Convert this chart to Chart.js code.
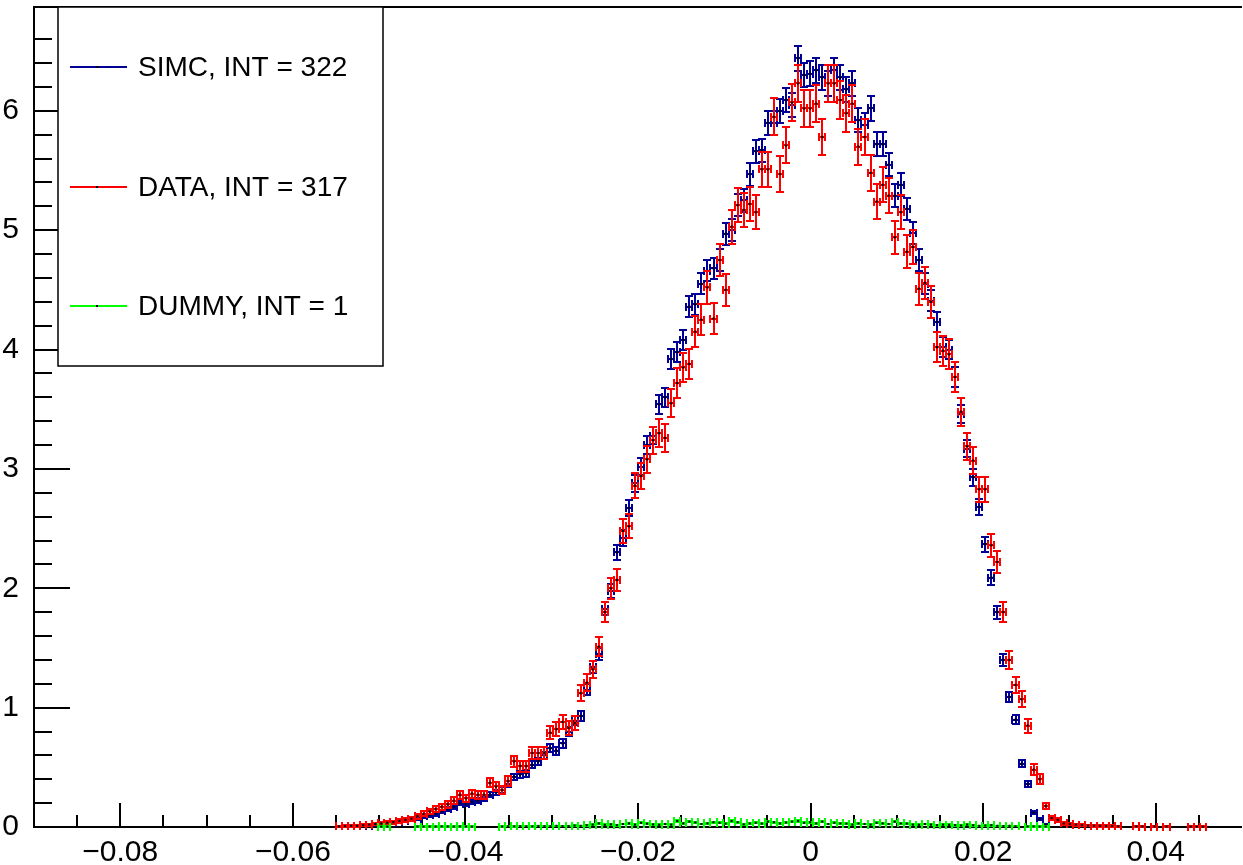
<!DOCTYPE html>
<html>
<head>
<meta charset="utf-8">
<script src="https://cdn.jsdelivr.net/npm/chart.js@4.4.1/dist/chart.umd.min.js"></script>
<style>
  html, body { margin: 0; padding: 0; background: #fff; overflow: hidden; }
  #wrap { width: 1246px; height: 865px; }
</style>
</head>
<body>
<div id="wrap"><canvas id="myChart"></canvas></div>
<script>
// histogram binning: 200 bins from -0.09 to 0.05, arrays below start at bin 50
const xMin = -0.09;
const xMax = 0.05;
const nBins = 200;
const firstBin = 50;

const seriesLabels = ['SIMC, INT = 322', 'DATA, INT = 317', 'DUMMY, INT = 1'];

// SIMC (blue)
const simc = [
  null, null, null, null, null, 0.01, 0.015, 0.02, 0.025, 0.03,
  0.04, 0.05, 0.06, 0.07, 0.09, 0.10, 0.11, 0.13, 0.15, 0.17,
  0.20, 0.19, 0.21, 0.22, 0.24, 0.27, 0.29, 0.31, 0.36, 0.42,
  0.44, 0.45, 0.52, 0.55, 0.60, 0.66, 0.64, 0.70, 0.80, 0.89,
  0.93, 1.15, 1.34, 1.45, 1.83, 1.98, 2.30, 2.42, 2.67, 2.88,
  3.02, 3.20, 3.28, 3.54, 3.60, 3.92, 3.98, 4.08, 4.36, 4.38,
  4.55, 4.66, 4.68, 4.75, 4.97, 5.00, 5.21, 5.25, 5.47, 5.66,
  5.67, 5.90, 5.90, 6.00, 6.09, 6.05, 6.44, 6.30, 6.31, 6.34,
  6.28, 6.23, 6.34, 6.28, 6.18, 6.23, 5.92, 5.88, 6.02, 5.72,
  5.72, 5.55, 5.29, 5.38, 5.18, 4.98, 4.75, 4.55, 4.41, 4.23,
  4.02, 4.00, 3.77, 3.46, 3.17, 2.93, 2.68, 2.37, 2.09, 1.80,
  1.40, 1.09, 0.90, 0.53, 0.36, 0.12, 0.065, 0.02, null, null
];

// DATA (red)
const dataVals = [
  0.005, 0.008, 0.01, 0.01, 0.015, 0.02, 0.025, 0.03, 0.035, 0.04,
  0.05, 0.06, 0.07, 0.09, 0.11, 0.13, 0.15, 0.17, 0.19, 0.22,
  0.27, 0.24, 0.28, 0.27, 0.27, 0.37, 0.34, 0.31, 0.385, 0.55,
  0.51, 0.51, 0.62, 0.62, 0.62, 0.79, 0.82, 0.88, 0.83, 0.87,
  1.12, 1.21, 1.32, 1.51, 1.80, 2.00, 2.07, 2.48, 2.52, 2.86,
  2.94, 3.08, 3.24, 3.30, 3.26, 3.55, 3.72, 3.85, 3.88, 4.15,
  4.25, 4.52, 4.26, 4.75, 4.50, 5.03, 5.21, 5.17, 5.22, 5.15,
  5.51, 5.51, 5.95, 5.47, 5.71, 6.07, 6.23, 6.02, 6.02, 6.06,
  5.78, 6.23, 6.23, 6.09, 5.98, 6.06, 5.70, 5.78, 5.48, 5.24,
  5.38, 5.29, 4.94, 5.15, 4.82, 4.86, 4.51, 4.56, 4.40, 4.02,
  3.99, 3.96, 3.77, 3.48, 3.19, 3.07, 2.83, 2.83, 2.36, 2.22,
  1.80, 1.40, 1.19, 1.07, 0.85, 0.48, 0.40, 0.175, 0.075, 0.06,
  0.03, 0.025, 0.02, 0.015, 0.012, 0.01, 0.01, 0.008, 0.008, 0.006,
  null, null, 0.005, 0.004, null, 0.004, null, 0.004, null, null,
  null, 0.003, 0.003, 0.003
];

// DUMMY (green)
const dummy = [
  null, null, null, null, null, null, null, 0.003, 0.003, null,
  null, null, null, 0.004, 0.003, 0.004, 0.003, 0.005, 0.004, 0.003,
  0.005, 0.004, 0.003, null, null, null, null, 0.004, 0.006, 0.005,
  0.008, 0.006, 0.005, 0.009, 0.007, 0.006, 0.01, 0.008, 0.007, 0.012,
  0.01, 0.015, 0.02, 0.03, 0.018, 0.022, 0.015, 0.025, 0.03, 0.02,
  0.035, 0.028, 0.022, 0.018, 0.025, 0.02, 0.05, 0.03, 0.045, 0.038,
  0.025, 0.03, 0.04, 0.035, 0.028, 0.05, 0.04, 0.022, 0.03, 0.035,
  0.028, 0.045, 0.04, 0.03, 0.038, 0.045, 0.05, 0.035, 0.04, 0.03,
  0.045, 0.025, 0.035, 0.03, 0.028, 0.02, 0.03, 0.025, 0.02, 0.035,
  0.03, 0.025, 0.045, 0.03, 0.028, 0.02, 0.018, 0.025, 0.02, 0.015,
  0.02, 0.018, 0.015, 0.012, 0.02, 0.015, 0.01, 0.012, 0.015, 0.01,
  0.008, 0.01, 0.006, null, 0.004, 0.005, 0.003, 0.004, null, null
];

// poisson-like error scale of each histogram (err = sqrt(value * scale))
const errScale = [0.0017, 0.0040, 0.0005];
const colors = ['#000099', '#ff0000', '#00ff00'];

const binWidth = (xMax - xMin) / nBins;
const fontFamily = "'Liberation Sans', Arial, Helvetica, sans-serif";

function toPoints(vals, scale) {
  const pts = [];
  for (let i = 0; i < vals.length; i++) {
    if (vals[i] === null) continue;
    const center = xMin + (firstBin + i + 0.5) * binWidth;
    pts.push({ x: center, y: vals[i], err: Math.sqrt(vals[i] * scale) });
  }
  return pts;
}

function isMajor(v, step) {
  return Math.abs(v / step - Math.round(v / step)) < 1e-6;
}

function fmtX(v) {
  if (Math.abs(v) < 1e-9) return '0';
  return v.toFixed(2).replace('-', '\u2212');
}

// ROOT-like frame, inward ticks, error bars and legend
const rootStyle = {
  id: 'rootStyle',
  beforeDatasetsDraw(chart) {
    const { ctx, chartArea: a, scales: { x, y } } = chart;
    ctx.save();
    ctx.strokeStyle = '#000';
    ctx.lineWidth = 2;
    // frame (right side falls outside the picture)
    ctx.beginPath();
    ctx.moveTo(a.right, a.top);
    ctx.lineTo(a.left, a.top);
    ctx.lineTo(a.left, a.bottom);
    ctx.lineTo(a.right, a.bottom);
    x.ticks.forEach(t => {
      if (!isMajor(t.value, 0.005)) return;
      const px = Math.round(x.getPixelForValue(t.value));
      if (px <= a.left + 1 || px >= a.right - 1) return;
      const len = isMajor(t.value, 0.02) ? 24 : 12;
      ctx.moveTo(px, a.bottom);
      ctx.lineTo(px, a.bottom - len);
    });
    y.ticks.forEach(t => {
      if (!isMajor(t.value, 0.2)) return;
      const py = Math.round(y.getPixelForValue(t.value));
      if (py <= a.top + 1 || py >= a.bottom - 1) return;
      const len = isMajor(t.value, 1) ? 36 : 18;
      ctx.moveTo(a.left, py);
      ctx.lineTo(a.left + len, py);
    });
    ctx.stroke();
    ctx.restore();
  },
  beforeDatasetDraw(chart, args) {
    const { ctx, chartArea: a, scales: { x, y } } = chart;
    const ds = chart.data.datasets[args.index];
    const cap = 4;
    const r = Math.round;
    ctx.save();
    ctx.beginPath();
    ctx.rect(a.left, a.top, a.right - a.left, a.bottom - a.top + 6);
    ctx.clip();
    ctx.strokeStyle = ds.borderColor;
    ctx.lineWidth = 2;
    ctx.beginPath();
    ds.data.forEach(p => {
      const cx = r(x.getPixelForValue(p.x));
      const cy = r(y.getPixelForValue(p.y));
      const xl = r(x.getPixelForValue(p.x - binWidth / 2));
      const xr = r(x.getPixelForValue(p.x + binWidth / 2));
      const yt = r(y.getPixelForValue(p.y + p.err));
      const yb = r(y.getPixelForValue(p.y - p.err));
      ctx.moveTo(xl, cy); ctx.lineTo(xr, cy);
      ctx.moveTo(xl, cy - cap); ctx.lineTo(xl, cy + cap);
      ctx.moveTo(xr, cy - cap); ctx.lineTo(xr, cy + cap);
      ctx.moveTo(cx, yt); ctx.lineTo(cx, yb);
      ctx.moveTo(cx - cap, yt); ctx.lineTo(cx + cap, yt);
      ctx.moveTo(cx - cap, yb); ctx.lineTo(cx + cap, yb);
    });
    ctx.stroke();
    ctx.restore();
  },
  afterDraw(chart) {
    const { ctx } = chart;
    const box = { left: 58, top: 7, right: 383, bottom: 366 };
    ctx.save();
    ctx.fillStyle = '#fff';
    ctx.fillRect(box.left, box.top, box.right - box.left, box.bottom - box.top);
    ctx.strokeStyle = '#000';
    ctx.lineWidth = 1.5;
    ctx.strokeRect(box.left, box.top, box.right - box.left, box.bottom - box.top);
    const rows = [67, 187, 306];
    ctx.font = '28px ' + fontFamily;
    ctx.textBaseline = 'middle';
    ctx.textAlign = 'left';
    chart.data.datasets.slice().sort((p, q) => q.order - p.order).forEach((ds, k) => {
      const yy = rows[k];
      ctx.strokeStyle = ds.borderColor;
      ctx.lineWidth = 2;
      ctx.beginPath();
      ctx.moveTo(70, yy);
      ctx.lineTo(127, yy);
      ctx.stroke();
      ctx.fillStyle = '#000';
      ctx.fillRect(96, yy - 1, 2, 2);
      ctx.fillText(ds.label, 138, yy + 1);
    });
    ctx.restore();
  }
};

const ctx = document.getElementById('myChart');
const allVals = [simc, dataVals, dummy];

const datasets = allVals.map((vals, k) => ({
  label: seriesLabels[k],
  data: toPoints(vals, errScale[k]),
  borderColor: colors[k],
  backgroundColor: '#000',
  pointStyle: 'rect',
  pointRadius: 1.5,
  pointBorderWidth: 0,
  showLine: false,
  clip: { left: 0, top: 0, right: 0, bottom: 6 },
  order: 3 - k
}));

new Chart(ctx, {
  type: 'scatter',
  data: { datasets: datasets },
  plugins: [rootStyle],
  options: {
    responsive: true,
    maintainAspectRatio: false,
    animation: false,
    devicePixelRatio: 1,
    events: [],
    layout: { padding: { top: 7, right: 2, left: 0, bottom: 0 } },
    plugins: {
      legend: { display: false },
      tooltip: { enabled: false }
    },
    scales: {
      x: {
        type: 'linear',
        min: xMin,
        max: xMax,
        afterFit(s) { s.height = 38; s.paddingLeft = 0; s.paddingRight = 0; },
        grid: { display: false },
        border: { display: false },
        ticks: {
          stepSize: 0.005,
          autoSkip: false,
          maxRotation: 0,
          padding: 0,
          color: '#000',
          font: { family: fontFamily, size: 30 },
          callback: v => isMajor(v, 0.02) ? fmtX(v) : ''
        }
      },
      y: {
        type: 'linear',
        min: 0,
        max: 6.87,
        afterFit(s) { s.width = 34; s.paddingTop = 0; s.paddingBottom = 0; },
        grid: { display: false },
        border: { display: false },
        ticks: {
          stepSize: 0.2,
          autoSkip: false,
          padding: 7,
          color: '#000',
          font: { family: fontFamily, size: 30 },
          callback: v => isMajor(v, 1) ? String(Math.round(v)) : ''
        }
      }
    }
  }
});
</script>
</body>
</html>
